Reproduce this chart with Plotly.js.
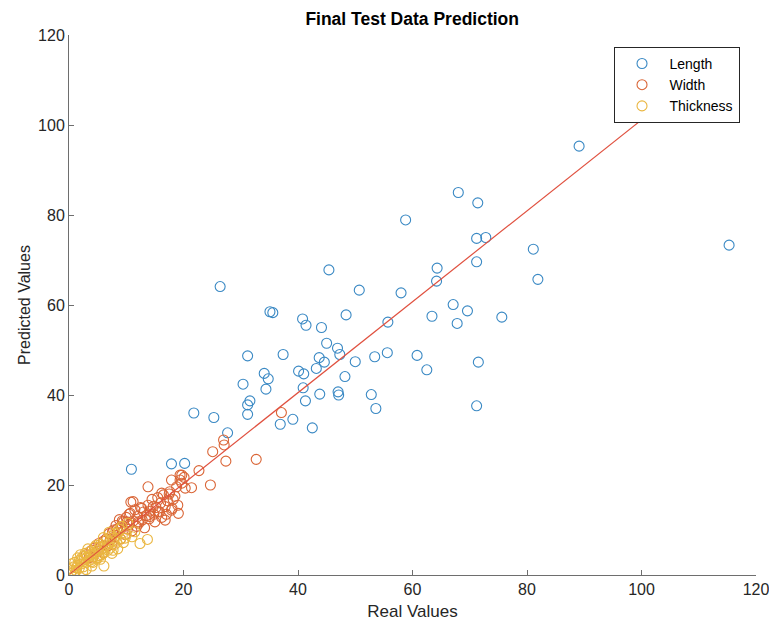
<!DOCTYPE html>
<html>
<head>
<meta charset="utf-8">
<script src="https://cdn.plot.ly/plotly-3.0.1.min.js"></script>
<style>html,body{margin:0;padding:0;background:#fff;}#chart{width:769px;height:621px;}</style>
</head>
<body>
<div id="chart"></div>
<script>
// Length (blue)
const lengthReal = [10.9,17.9,20.2,21.8,25.3,26.4,27.7,30.4,31.2,31.6,31.2,31.2,34.1,34.8,34.4,35.1,35.6,36.9,37.4,39.1,40.1,41.0,40.8,41.4,40.9,41.3,42.5,43.2,43.7,43.8,44.1,44.6,45.0,45.4,46.9,47.3,47.0,47.1,48.2,48.4,50.0,50.7,52.8,53.4,53.6,55.6,55.7,58.0,58.8,60.8,62.5,63.4,64.2,64.3,67.1,67.8,68.0,69.6,71.2,71.2,71.4,71.5,71.2,72.8,75.6,81.1,81.9,89.1,115.3];
const lengthPred = [23.5,24.7,24.8,36.0,35.0,64.1,31.6,42.4,48.7,38.7,37.8,35.7,44.8,43.6,41.3,58.5,58.3,33.5,49.0,34.6,45.3,44.7,56.9,55.5,41.6,38.7,32.7,45.9,48.3,40.2,55.0,47.3,51.5,67.8,50.4,49.0,40.7,40.0,44.1,57.8,47.4,63.3,40.1,48.5,37.0,49.4,56.2,62.7,78.9,48.8,45.6,57.5,65.3,68.2,60.1,55.9,85.0,58.7,69.6,74.8,82.7,47.3,37.6,75.0,57.3,72.4,65.7,95.3,73.3];
// Width (orange)
const widthReal = [3.0,3.5,4.0,4.2,4.5,5.0,5.2,5.5,6.0,6.0,6.5,6.8,7.0,7.2,7.5,7.8,8.0,8.2,8.5,8.8,9.0,9.2,9.5,9.8,10.0,10.2,10.5,10.5,10.8,11.0,11.2,11.5,11.8,12.0,12.2,12.5,12.8,13.0,13.2,13.5,13.8,14.0,14.2,14.5,14.8,15.0,15.2,15.5,15.8,16.0,16.2,16.5,16.8,17.0,17.2,17.5,17.6,17.9,18.0,18.2,18.5,18.8,19.0,19.4,19.4,19.7,20.1,20.3,21.4,22.7,24.7,25.1,27.0,27.1,27.4,32.7,37.1,11.2,12.7,14.7,15.6,17.9,19.1,14.1,10.7,10.1,12.1,16.8,16.2,19.7,13.8,9.3,8.4,7.6];
const widthPred = [4.5,3.8,5.5,4.0,6.0,5.2,7.0,6.2,5.0,7.5,8.0,6.5,9.2,7.8,6.8,10.0,8.5,11.0,9.5,12.3,8.0,10.5,11.8,9.0,12.8,10.2,13.5,11.2,16.2,9.8,12.0,14.5,10.8,13.0,11.5,15.0,12.2,14.0,10.5,13.2,15.5,12.5,14.2,16.8,13.5,11.8,15.0,17.2,14.0,16.0,12.8,17.8,15.2,13.5,16.5,18.0,18.5,21.1,14.8,16.8,17.5,19.6,15.5,21.1,22.2,22.2,21.7,19.3,19.4,23.2,20.0,27.4,30.0,28.9,25.3,25.7,36.1,16.3,14.8,15.2,14.1,14.4,13.7,13.0,13.7,11.8,11.8,12.2,18.2,20.4,19.6,12.0,10.2,9.6];
// Thickness (yellow)
const thickReal = [0.3,0.6,1.0,0.8,1.2,1.5,1.8,2.0,2.2,2.5,2.7,3.0,3.2,3.5,3.8,4.0,4.2,4.5,4.8,5.0,5.2,5.5,5.8,6.0,6.2,6.1,6.8,7.0,7.2,7.5,7.8,8.0,8.3,8.5,9.0,9.5,10.0,11.0,12.4,13.7,11.5,2.8,3.6,1.5,2.0,4.5,5.5,6.0,3.0,4.0,7.0,8.8,0.5,2.4,1.0,1.8,2.6,3.3,4.3,5.0,5.7,6.5,7.3,8.0,9.2,10.3,3.9,4.7,2.2,1.3,6.6,7.7,5.3,9.8,8.6,0.2];
const thickPred = [0.5,1.0,0.2,1.8,1.0,2.2,1.5,3.0,2.5,1.8,3.5,2.8,4.0,3.2,4.5,3.5,2.8,4.8,3.8,5.5,4.3,3.5,5.8,4.8,6.5,2.0,5.5,7.2,6.0,4.8,8.2,6.8,7.5,5.8,8.0,7.2,9.0,8.5,7.0,7.9,9.6,4.8,5.2,3.8,4.5,6.2,6.8,8.3,1.2,2.0,9.5,10.2,2.5,0.8,2.8,3.2,4.2,5.8,5.0,3.8,4.5,6.0,8.6,9.2,10.8,11.5,3.0,6.6,3.8,1.6,7.8,5.5,6.2,8.2,9.4,1.4];
// Fit line
const fitX = [0.2, 115.5];
const fitY = [0.3, 116.8];

const mk = (c) => ({symbol:'circle-open', size:10, color:c, line:{width:1.1, color:c}});
const traces = [
  {x:lengthReal, y:lengthPred, mode:'markers', type:'scatter', name:'Length', marker:mk('#3a89c4')},
  {x:widthReal, y:widthPred, mode:'markers', type:'scatter', name:'Width', marker:mk('#da6536')},
  {x:thickReal, y:thickPred, mode:'markers', type:'scatter', name:'Thickness', marker:mk('#eab640')},
  {x:fitX, y:fitY, mode:'lines', type:'scatter', showlegend:false, line:{color:'#e0503f', width:1.2}, hoverinfo:'skip'}
];
const axisCommon = {
  range:[0,120], tickvals:[0,20,40,60,80,100,120], showgrid:false, zeroline:false,
  showline:true, linecolor:'#6e6e6e', linewidth:1, ticks:'inside', ticklen:5, tickcolor:'#6e6e6e',
  ticklabeloverflow:'allow',
  tickfont:{family:'Liberation Sans, Arial, sans-serif', size:16, color:'#262626'}, fixedrange:true
};
const layout = {
  width:769, height:621,
  margin:{l:69, r:13, t:35, b:46},
  paper_bgcolor:'#fff', plot_bgcolor:'#fff',
  font:{family:'Liberation Sans, Arial, sans-serif', color:'#262626'},
  title:{text:'<b>Final Test Data Prediction</b>', x:0.536, xanchor:'center', y:0.969, yanchor:'middle', font:{size:17.5, color:'#000'}},
  xaxis:Object.assign({}, axisCommon, {title:{text:'Real Values', standoff:8, font:{size:17, color:'#262626'}}}),
  yaxis:Object.assign({}, axisCommon, {title:{text:'Predicted Values', standoff:3, font:{size:16, color:'#262626'}}}),
  showlegend:true,
  legend:{x:0.976, xanchor:'right', y:0.978, yanchor:'top', bgcolor:'#fff', bordercolor:'#262626', borderwidth:1,
          font:{size:14, color:'#000'}, tracegroupgap:0, itemwidth:45}
};
Plotly.newPlot('chart', traces, layout, {staticPlot:true, displayModeBar:false});
</script>
</body>
</html>
